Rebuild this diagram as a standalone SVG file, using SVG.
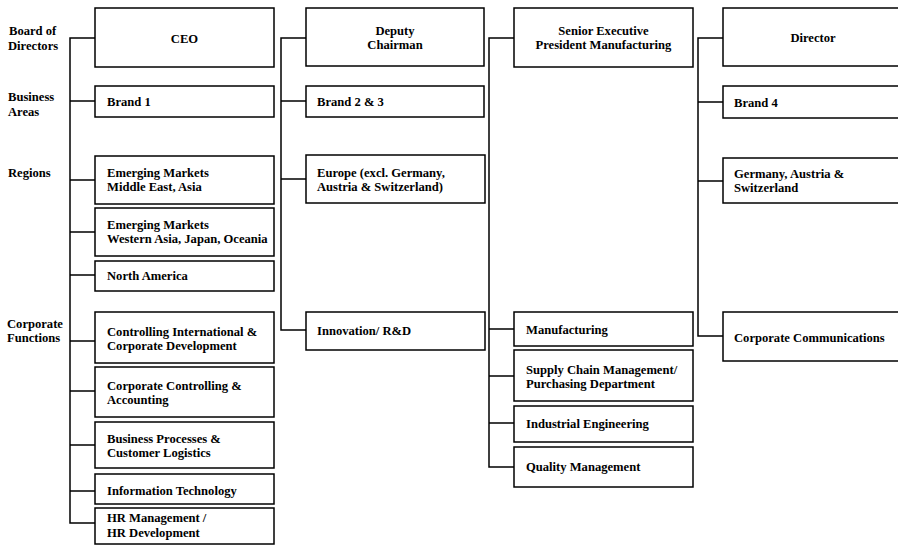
<svg xmlns="http://www.w3.org/2000/svg" width="898" height="545" viewBox="0 0 898 545">
<style>
rect{fill:#fff;stroke:#000;stroke-width:1.5}
text{font-family:"Liberation Serif","Times New Roman",serif;font-weight:bold;font-size:12.6px;fill:#000}
.c{text-anchor:middle}
#connectors path{fill:none;stroke:#000;stroke-width:1.5}
</style>
<rect x="0" y="0" width="898" height="545" style="stroke:none"/>
<g id="labels">
<text x="9" y="35">Board of</text><text x="8" y="50">Directors</text>
<text x="8" y="101">Business</text><text x="8" y="116">Areas</text>
<text x="8" y="177">Regions</text>
<text x="7" y="328">Corporate</text><text x="7" y="342">Functions</text>
</g>
<g id="connectors">
<path d="M95 38H70V523H95M70 101H95M70 180H95M70 232H95M70 275H95M70 341H95M70 391H95M70 445H95M70 491H95"/>
<path d="M306 38H281V330H306M281 101H306M281 179H306"/>
<path d="M514 38H489V467H514M489 329H514M489 376H514M489 423H514"/>
<path d="M723 38H698V336H723M698 102H723M698 181H723"/>
</g>
<g id="ceo"><rect x="95" y="8" width="179" height="59"/><text class="c" x="184.5" y="43">CEO</text></g>
<g id="brand1"><rect x="95" y="86" width="179" height="31"/><text x="107" y="106">Brand 1</text></g>
<g id="em1"><rect x="95" y="156" width="179" height="48"/><text x="107" y="177">Emerging Markets</text><text x="107" y="191">Middle East, Asia</text></g>
<g id="em2"><rect x="95" y="208" width="179" height="48"/><text x="107" y="229">Emerging Markets</text><text x="107" y="243">Western Asia, Japan, Oceania</text></g>
<g id="na"><rect x="95" y="261" width="179" height="30"/><text x="107" y="280">North America</text></g>
<g id="ci"><rect x="95" y="312" width="179" height="51"/><text x="107" y="336">Controlling International &amp;</text><text x="107" y="350">Corporate Development</text></g>
<g id="cc"><rect x="95" y="367" width="179" height="50"/><text x="107" y="390">Corporate Controlling &amp;</text><text x="107" y="404">Accounting</text></g>
<g id="bp"><rect x="95" y="422" width="179" height="46"/><text x="107" y="443">Business Processes &amp;</text><text x="107" y="457">Customer Logistics</text></g>
<g id="it"><rect x="95" y="474" width="179" height="30"/><text x="107" y="495">Information Technology</text></g>
<g id="hr"><rect x="95" y="508" width="179" height="36"/><text x="107" y="522">HR Management /</text><text x="107" y="537">HR Development</text></g>
<g id="deputy"><rect x="306" y="8" width="178" height="58"/><text class="c" x="395" y="35">Deputy</text><text class="c" x="395" y="49">Chairman</text></g>
<g id="brand23"><rect x="306" y="86" width="178" height="31"/><text x="317" y="106">Brand 2 &amp; 3</text></g>
<g id="europe"><rect x="306" y="155" width="179" height="48"/><text x="317" y="177">Europe (excl. Germany,</text><text x="317" y="191">Austria &amp; Switzerland)</text></g>
<g id="innov"><rect x="306" y="312" width="179" height="38"/><text x="317" y="335">Innovation/ R&amp;D</text></g>
<g id="sevp"><rect x="514" y="8" width="179" height="59"/><text class="c" x="603.5" y="35">Senior Executive</text><text class="c" x="603.5" y="49">President Manufacturing</text></g>
<g id="mfg"><rect x="514" y="312" width="179" height="34"/><text x="526" y="334">Manufacturing</text></g>
<g id="scm"><rect x="514" y="350" width="179" height="51"/><text x="526" y="374">Supply Chain Management/</text><text x="526" y="388">Purchasing Department</text></g>
<g id="ie"><rect x="514" y="406" width="179" height="36"/><text x="526" y="428">Industrial Engineering</text></g>
<g id="qm"><rect x="514" y="447" width="179" height="40"/><text x="526" y="471">Quality Management</text></g>
<g id="director"><rect x="723" y="8" width="180" height="58"/><text class="c" x="813" y="42">Director</text></g>
<g id="brand4"><rect x="723" y="86" width="180" height="32"/><text x="734" y="107">Brand 4</text></g>
<g id="dach"><rect x="723" y="158" width="180" height="45"/><text x="734" y="178">Germany, Austria &amp;</text><text x="734" y="192">Switzerland</text></g>
<g id="cc2"><rect x="723" y="312" width="180" height="49"/><text x="734" y="342">Corporate Communications</text></g>
</svg>
